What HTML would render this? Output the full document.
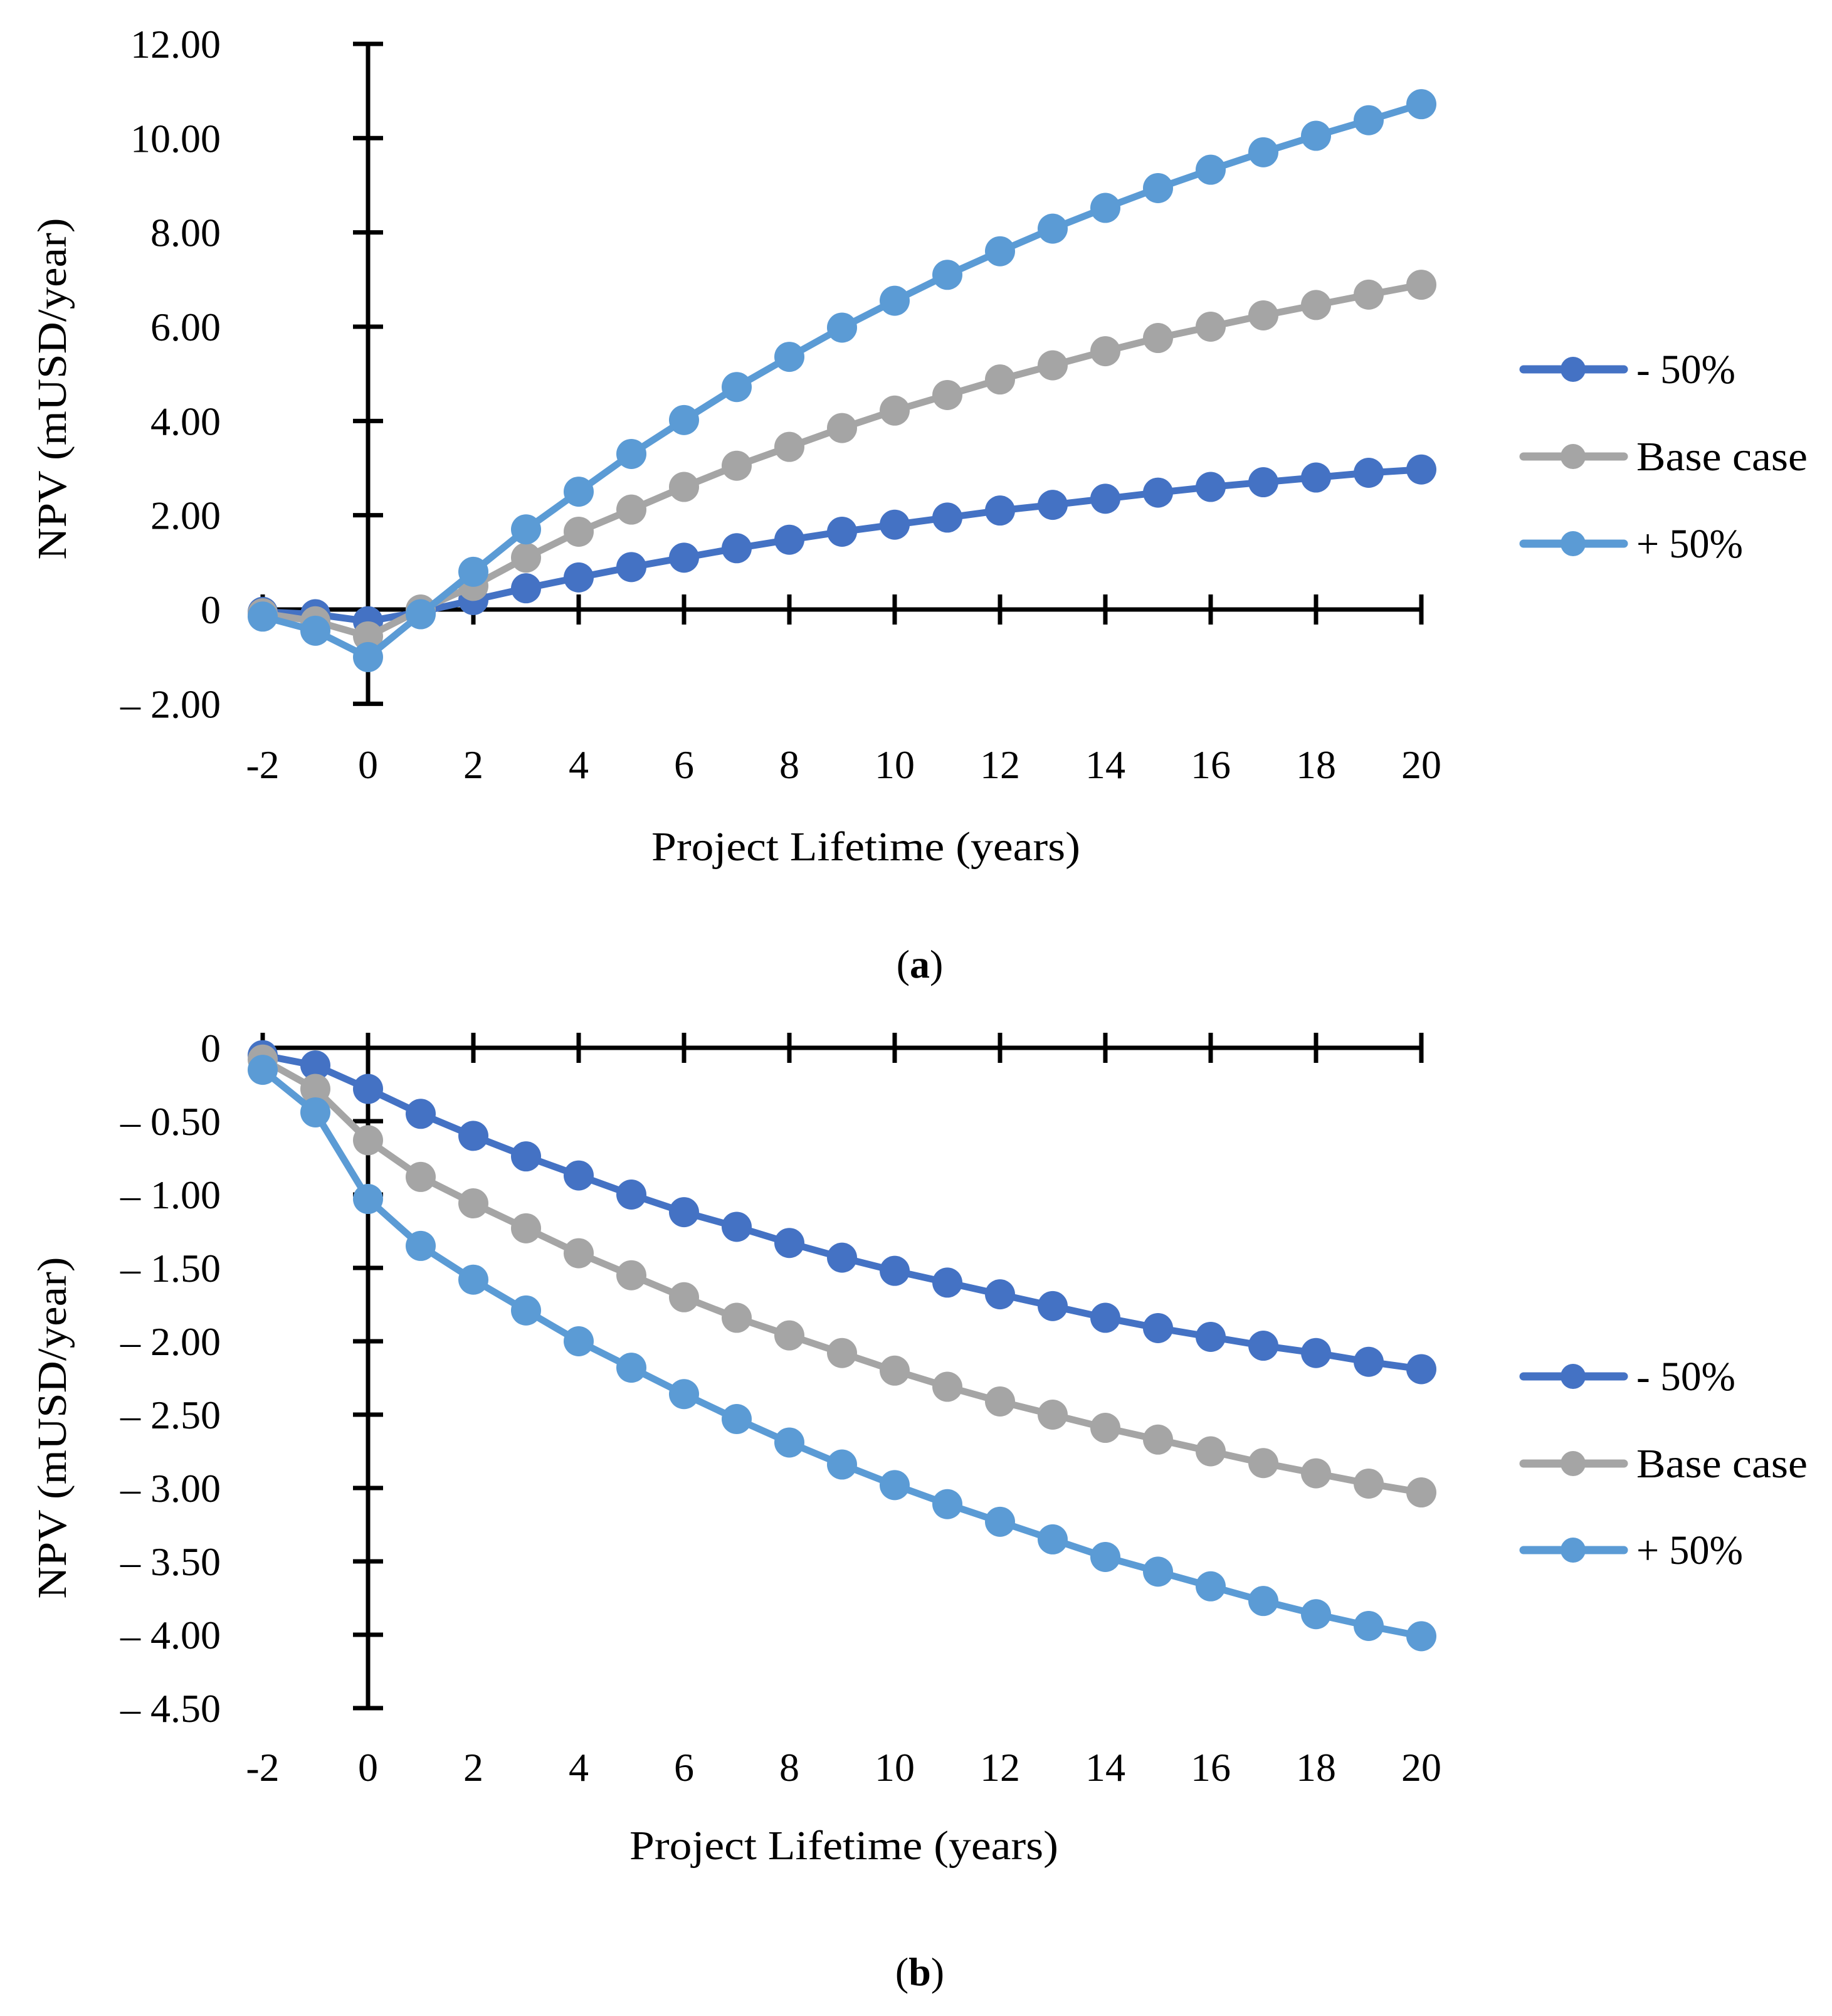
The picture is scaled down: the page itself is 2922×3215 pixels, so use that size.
<!DOCTYPE html>
<html><head><meta charset="utf-8"><style>
html,body{margin:0;padding:0;background:#fff;}
svg{display:block;font-family:"Liberation Serif",serif;}
</style></head><body>
<svg id="svg" width="2922" height="3215" viewBox="0 0 2922 3215" xmlns="http://www.w3.org/2000/svg"></svg>
<script>
const years = [-2,-1,0,1,2,3,4,5,6,7,8,9,10,11,12,13,14,15,16,17,18,19,20];
const xTicks = [-2,0,2,4,6,8,10,12,14,16,18,20];
const seriesNames = ["- 50%","Base case","+ 50%"];
const seriesColors = ["#4472c4","#a5a5a5","#5b9bd5"];
const aMinus = [-0.05,-0.1,-0.25,-0.05,0.2,0.45,0.68,0.9,1.1,1.3,1.48,1.65,1.8,1.95,2.1,2.22,2.35,2.48,2.6,2.7,2.8,2.9,2.97];
const aBase = [-0.08,-0.25,-0.57,0,0.5,1.1,1.65,2.12,2.6,3.05,3.45,3.85,4.22,4.55,4.88,5.18,5.48,5.76,6.0,6.24,6.46,6.68,6.89];
const aPlus = [-0.15,-0.45,-1.01,-0.1,0.8,1.7,2.5,3.3,4.02,4.72,5.36,5.98,6.55,7.1,7.6,8.08,8.52,8.94,9.33,9.7,10.05,10.38,10.72];
const aYTicks = [12,10,8,6,4,2,0,-2];
const aYLabels = ["12.00","10.00","8.00","6.00","4.00","2.00","0","– 2.00"];
const bMinus = [-0.05,-0.12,-0.28,-0.45,-0.6,-0.74,-0.87,-1.0,-1.12,-1.22,-1.33,-1.43,-1.52,-1.6,-1.68,-1.76,-1.84,-1.91,-1.97,-2.03,-2.08,-2.14,-2.19];
const bBase = [-0.08,-0.28,-0.63,-0.88,-1.06,-1.23,-1.4,-1.55,-1.7,-1.84,-1.96,-2.08,-2.2,-2.31,-2.41,-2.5,-2.59,-2.67,-2.75,-2.83,-2.9,-2.97,-3.03];
const bPlus = [-0.15,-0.44,-1.03,-1.35,-1.58,-1.79,-2.0,-2.18,-2.36,-2.53,-2.69,-2.84,-2.98,-3.11,-3.23,-3.35,-3.47,-3.57,-3.67,-3.77,-3.86,-3.94,-4.01];
const bYTicks = [0,-0.5,-1,-1.5,-2,-2.5,-3,-3.5,-4,-4.5];
const bYLabels = ["0","– 0.50","– 1.00","– 1.50","– 2.00","– 2.50","– 3.00","– 3.50","– 4.00","– 4.50"];

const NS="http://www.w3.org/2000/svg";
const svg=document.getElementById('svg');
function mk(tag,attrs,parent){const e=document.createElementNS(NS,tag);for(const k in attrs)e.setAttribute(k,attrs[k]);(parent||svg).appendChild(e);return e;}

function drawChart(cfg){
  const g=mk('g',{});
  
  
  const xs=v=>419+(v+2)*84;
  const ys=v=>cfg.y0-v*cfg.ppu;
  const axX=xs(0), axY=ys(0);
  const ya=mk('line',{x1:axX,x2:axX,y1:ys(cfg.ymax),y2:ys(cfg.ymin),stroke:'#000','stroke-width':7},g);
  
  
  cfg.yTicks.forEach((t,i)=>{
    const tk=mk('line',{x1:axX-24,x2:axX+24,y1:ys(t),y2:ys(t),stroke:'#000','stroke-width':7},g);
    
    
    const tl=mk('text',{x:352,y:ys(t)+22,'text-anchor':'end','font-size':64},g);
    tl.textContent=cfg.yLabels[i];
    
    
  });
  const xa=mk('line',{x1:xs(-2),x2:xs(20),y1:axY,y2:axY,stroke:'#000','stroke-width':7},g);
  
  
  xTicks.forEach(t=>{
    const tk=mk('line',{x1:xs(t),x2:xs(t),y1:axY-24,y2:axY+24,stroke:'#000','stroke-width':7},g);
    
    
    const tl=mk('text',{x:xs(t),y:cfg.xLabelY,'text-anchor':'middle','font-size':64},g);
    tl.textContent=String(t);
    
    
  });
  cfg.series.forEach((vals,si)=>{
    const pts=vals.map((v,i)=>xs(years[i])+','+ys(v)).join(' ');
    const pl=mk('polyline',{points:pts,fill:'none',stroke:seriesColors[si],'stroke-width':11,'stroke-linejoin':'round'},g);
    
    
    vals.forEach((v,i)=>{
      const c=mk('circle',{cx:xs(years[i]),cy:ys(v),r:24,fill:seriesColors[si]},g);
      
      
    });
  });
  const legendLens=[158,273,170];
  cfg.legendY.forEach((ly,si)=>{
    const l=mk('line',{x1:2430,x2:2590,y1:ly,y2:ly,stroke:seriesColors[si],'stroke-width':13,'stroke-linecap':'round'},g);
    
    
    const c=mk('circle',{cx:2509,cy:ly,r:20,fill:seriesColors[si]},g);
    
    
    const t=mk('text',{x:2610,y:ly+22,'font-size':66,textLength:legendLens[si],lengthAdjust:'spacingAndGlyphs'},g);
    t.textContent=seriesNames[si];
    
    
  });
  const yt=mk('text',{x:0,y:0,'text-anchor':'middle','font-size':66,textLength:545,lengthAdjust:'spacingAndGlyphs',transform:'translate(105,'+cfg.yTitleY+') rotate(-90)'},g);
  yt.textContent='NPV (mUSD/year)';
  
  
  const xt=mk('text',{x:cfg.xTitleX,y:cfg.xTitleY,'text-anchor':'middle','font-size':66,textLength:684,lengthAdjust:'spacingAndGlyphs'},g);
  xt.textContent='Project Lifetime (years)';
  
  
  const cap=mk('text',{x:1467,y:cfg.capY,'text-anchor':'middle','font-size':64},g);
  cap.innerHTML='(<tspan font-weight="bold">'+cfg.cap+'</tspan>)';
  
  
}
drawChart({name:'chart-a',y0:972,ppu:75.17,ymax:12,ymin:-2,yTicks:aYTicks,yLabels:aYLabels,xLabelY:1241,series:[aMinus,aBase,aPlus],legendY:[589,728,867],yTitleY:620,xTitleX:1381,xTitleY:1372,capY:1559,cap:'a'});
drawChart({name:'chart-b',y0:1671,ppu:234,ymax:0,ymin:-4.5,yTicks:bYTicks,yLabels:bYLabels,xLabelY:2840,series:[bMinus,bBase,bPlus],legendY:[2195,2334,2472],yTitleY:2277,xTitleX:1346,xTitleY:2965,capY:3166,cap:'b'});
</script>
</body></html>
